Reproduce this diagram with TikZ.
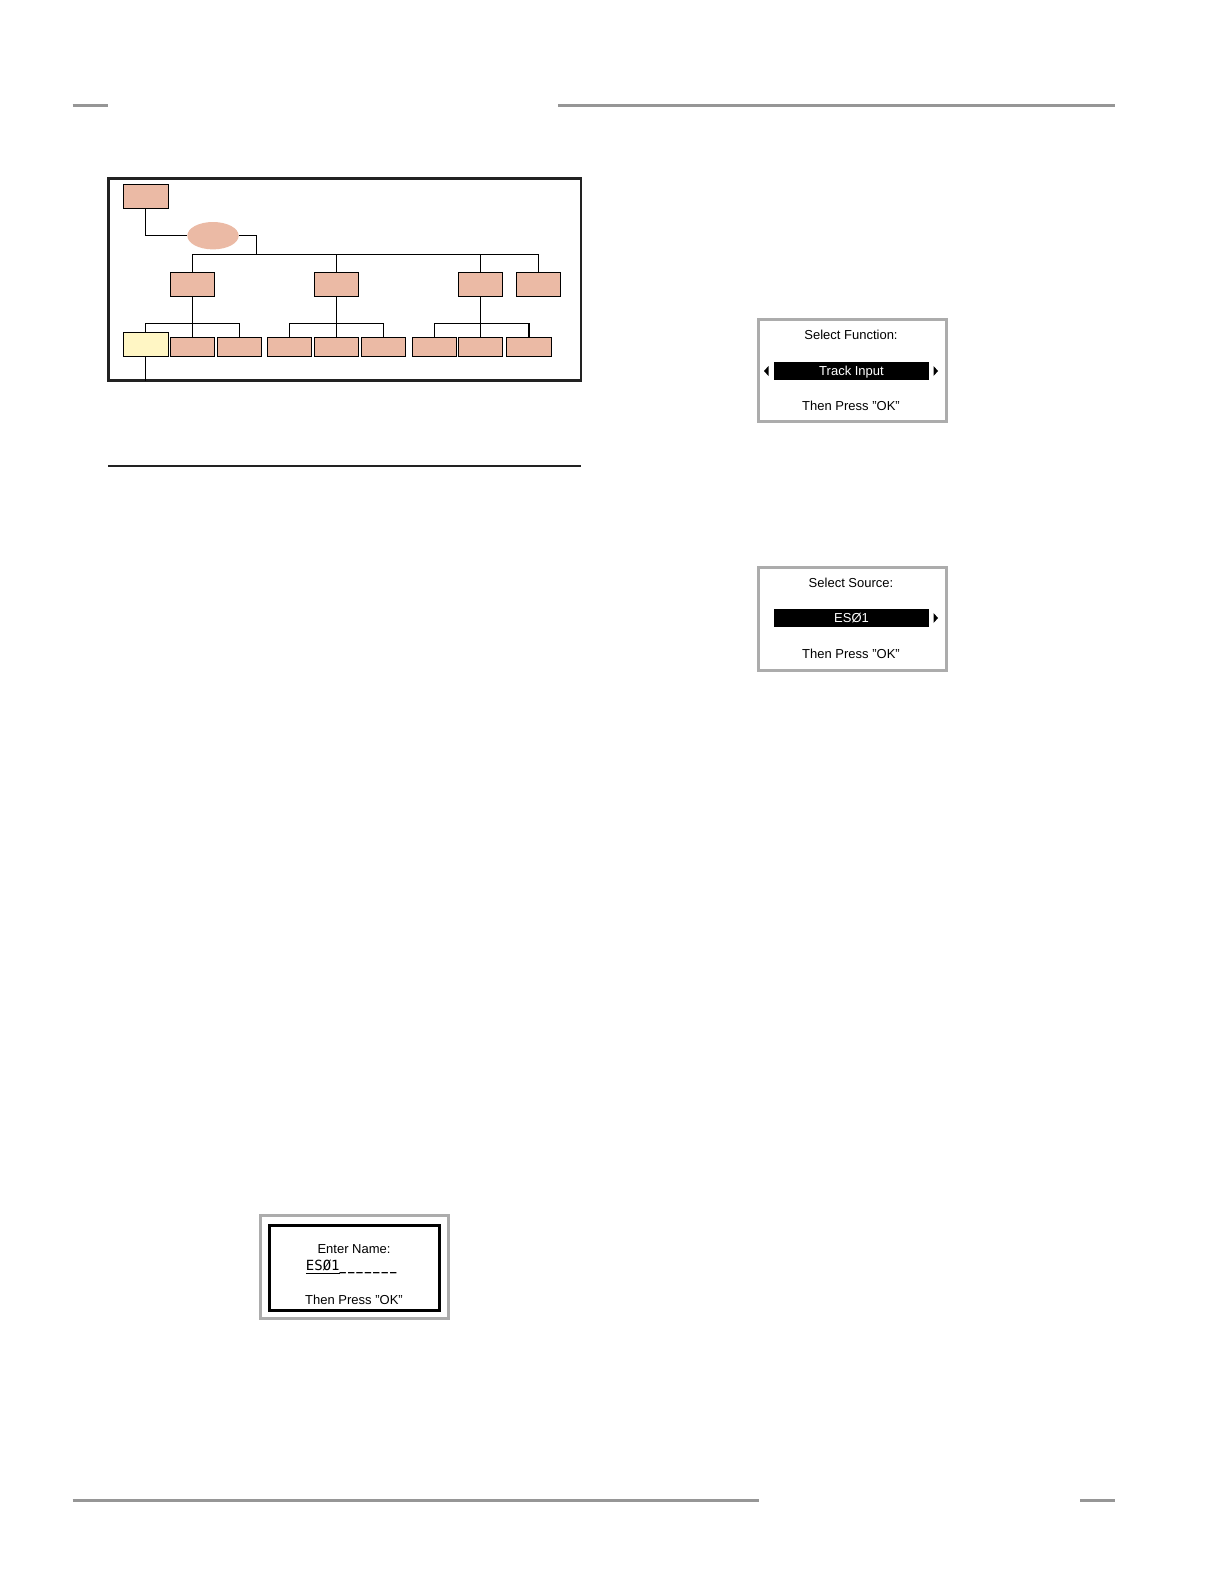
\documentclass[tikz,border=0pt]{standalone}
\usepackage{fontspec}
\setmainfont{Liberation Sans}
\newfontfamily\lcdmono{DejaVu Sans Mono}
\usetikzlibrary{shapes.geometric}
\definecolor{pinkbox}{RGB}{235,186,165}
\definecolor{yelbox}{RGB}{255,246,196}
\definecolor{rulegray}{RGB}{150,150,150}
\definecolor{lcdgray}{RGB}{172,172,172}
\definecolor{framek}{RGB}{34,34,34}
\newcommand\lcdus{\scalebox{0.76}[1]{\bfseries\_}\kern2pt}
\begin{document}
\begin{tikzpicture}[x=1pt,y=-1pt,
  pbox/.style={draw=black,fill=pinkbox,line width=1.1pt,inner sep=0,outer sep=0,minimum width=44.4pt},
  ybox/.style={draw=black,fill=yelbox,line width=1.1pt,inner sep=0,outer sep=0,minimum width=45pt,minimum height=24pt},
  conn/.style={draw=black,line width=1.2pt},
  hrule/.style={draw=rulegray,line width=3pt},
  lcd/.style={draw=lcdgray,line width=3pt,inner sep=0,fill=white},
  lcdtext/.style={font=\fontsize{13}{15}\selectfont,inner sep=0},
  bar/.style={fill=black,text=white,inner sep=0,text depth=0pt,font=\fontsize{13}{15}\selectfont}
]
\useasboundingbox (0,0) rectangle (1224,1584);

% page rules
\coordinate (r1a) at (72.6,105.3); \coordinate (r1b) at (108,105.3);
\coordinate (r2a) at (558,105.3);  \coordinate (r2b) at (1115,105.3);
\coordinate (r3a) at (72.6,1500.5); \coordinate (r3b) at (759,1500.5);
\coordinate (r4a) at (1080,1500.5); \coordinate (r4b) at (1115,1500.5);
\draw[hrule] (r1a) -- (r1b);
\draw[hrule] (r2a) -- (r2b);
\draw[hrule] (r3a) -- (r3b);
\draw[hrule] (r4a) -- (r4b);

% separator
\coordinate (s1) at (108,466); \coordinate (s2) at (581,466);
\draw[framek,line width=2.2pt] (s1) -- (s2);

% diagram frame
\node[draw=framek,line width=2.5pt,minimum width=472.7pt,minimum height=202pt,inner sep=0,outer sep=0] (frame) at (344.65,279.7) {};

% top
\node[pbox,minimum width=45pt,minimum height=24pt] (top) at (145.8,196.3) {};
\node[ellipse,fill=pinkbox,minimum width=51.4pt,minimum height=27.4pt,inner sep=0,outer sep=0] (ell) at (213,235.7) {};

% level 2
\node[pbox,minimum height=24.4pt] (la) at (192.5,284.5) {};
\node[pbox,minimum height=24.4pt] (lb) at (336.5,284.5) {};
\node[pbox,minimum height=24.4pt] (lc) at (480.5,284.5) {};
\node[pbox,minimum height=24.4pt] (ld) at (538.5,284.5) {};

% level 3
\node[ybox] (y1) at (145.8,344.3) {};
\node[pbox,minimum height=19pt] (a2) at (192.5,346.8) {};
\node[pbox,minimum height=19pt] (a3) at (239.5,346.8) {};
\node[pbox,minimum height=19pt] (b1) at (289.3,346.8) {};
\node[pbox,minimum height=19pt] (b2) at (336.5,346.8) {};
\node[pbox,minimum height=19pt] (b3) at (383.3,346.8) {};
\node[pbox,minimum height=19pt] (c1) at (434.3,346.8) {};
\node[pbox,minimum height=19pt] (c2) at (480.5,346.8) {};
\node[pbox,minimum height=19pt] (c3) at (529.0,346.8) {};

\coordinate (busR) at (256.3,254.3);
\coordinate (bus3) at (0,323.3);

% connectors
\draw[conn] (top.south) |- (ell.west);
\draw[conn] (ell.east) -| (busR);
\draw[conn] (la.north) -- (la.north |- busR) -- (ld.north |- busR) -- (ld.north);
\draw[conn] (lb.north) -- (lb.north |- busR);
\draw[conn] (lc.north) -- (lc.north |- busR);

\draw[conn] (la.south) -- (a2.north);
\draw[conn] (y1.north) -- (y1.north |- bus3) -- (a3.north |- bus3) -- (a3.north);
\draw[conn] (lb.south) -- (b2.north);
\draw[conn] (b1.north) -- (b1.north |- bus3) -- (b3.north |- bus3) -- (b3.north);
\draw[conn] (lc.south) -- (c2.north);
\draw[conn] (c1.north) -- (c1.north |- bus3) -- (c3.north |- bus3) -- (c3.north);
\draw[conn] (y1.south) -- (y1.south |- frame.south);

% screen 1
\node[lcd,minimum width=188.4pt,minimum height=102.7pt] (scr1) at (852.2,370.35) {};
\node[lcdtext] (t1a) at (851,335) {Select Function:};
\node[bar,minimum width=155pt,minimum height=17.7pt] (bar1) at (851.5,371) {Track Input};
\node[lcdtext] (t1c) at (851,405.6) {Then Press "OK"};
\fill (768.5,366) -- (764,371) -- (768.5,376) -- cycle;
\fill (933.5,366) -- (938,371) -- (933.5,376) -- cycle;

% screen 2
\node[lcd,minimum width=188.4pt,minimum height=103pt] (scr2) at (852.2,618.5) {};
\node[lcdtext] (t2a) at (851,583.2) {Select Source:};
\node[bar,minimum width=155pt,minimum height=18.2pt] (bar2) at (851.5,618) {ESØ1};
\node[lcdtext] (t2c) at (851,653.8) {Then Press "OK"};
\fill (933.5,613) -- (938,618) -- (933.5,623) -- cycle;

% screen 3
\node[lcd,minimum width=187.7pt,minimum height=103pt] (scr3) at (354.15,1267.3) {};
\node[draw=black,line width=3pt,minimum width=170pt,minimum height=85.7pt,inner sep=0] (in3) at (354.5,1267.85) {};
\node[lcdtext] (t3a) at (354,1249) {Enter Name:};
\node[inner sep=0,anchor=west,font=\lcdmono\fontsize{14}{16}\selectfont] (t3b) at (305.7,1267.3) {\underline{ESØ1}\lcdus\lcdus\lcdus\lcdus\lcdus\lcdus\lcdus};
\node[lcdtext] (t3c) at (354,1299.6) {Then Press "OK"};
\end{tikzpicture}
\end{document}
